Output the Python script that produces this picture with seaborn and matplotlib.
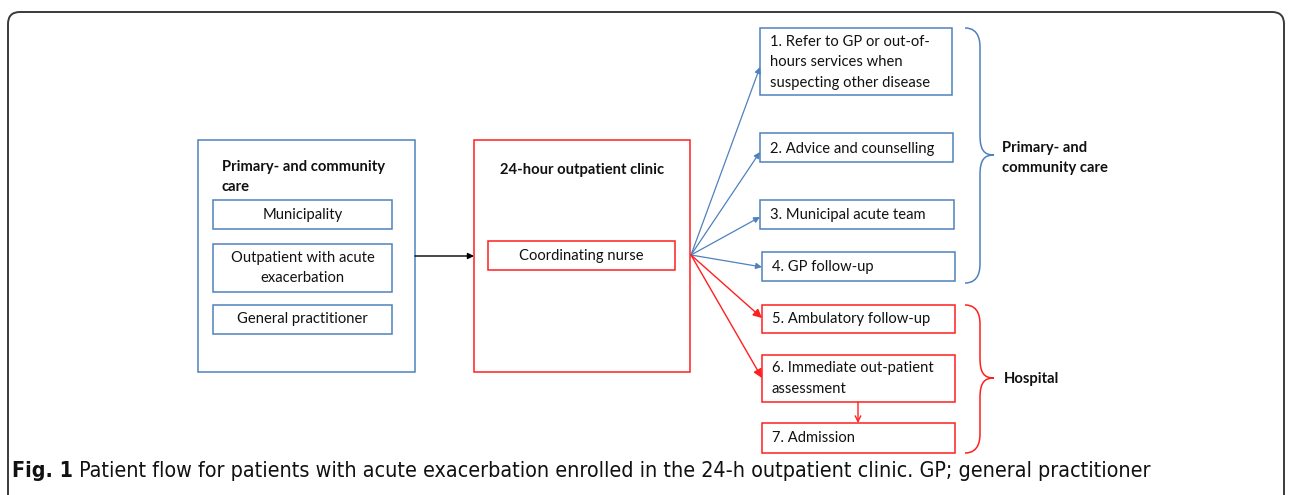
import matplotlib
matplotlib.use("Agg")
import matplotlib.pyplot as plt
import seaborn as sns
from matplotlib.patches import Rectangle, FancyBboxPatch, PathPatch
from matplotlib.path import Path
from matplotlib import font_manager
from matplotlib.font_manager import FontProperties

# ---- content ----
left_title = "Primary- and community\ncare"
left_items = ["Municipality", "Outpatient with acute\nexacerbation", "General practitioner"]
clinic_title = "24-hour outpatient clinic"
clinic_item = "Coordinating nurse"
primary_outcomes = ["1. Refer to GP or out-of-\nhours services when\nsuspecting other disease",
                    "2. Advice and counselling",
                    "3. Municipal acute team",
                    "4. GP follow-up"]
hospital_outcomes = ["5. Ambulatory follow-up",
                     "6. Immediate out-patient\nassessment",
                     "7. Admission"]
brace_labels = ["Primary- and\ncommunity care", "Hospital"]
caption_bold = "Fig. 1"
caption_text = " Patient flow for patients with acute exacerbation enrolled in the 24-h outpatient clinic. GP; general practitioner"

BLUE = "#4F81BD"
RED = "#FF1F1F"
TXT = "#111111"

sns.set_theme(style="white")
avail = {f.name for f in font_manager.fontManager.ttflist}
box_font = "Lato" if "Lato" in avail else "DejaVu Sans"
plt.rcParams['font.family'] = [box_font, 'DejaVu Sans']

# look for a condensed / narrow sans face for the caption
def find_narrow(bold):
    prefs = ["LiberationSansNarrow", "OpenSans_Condensed", "OpenSansCondensed",
             "OpenSans-Condensed", "DejaVuSansCondensed", "NotoSans-Condensed",
             "Roboto_Condensed", "RobotoCondensed"]
    files = [f.fname for f in font_manager.fontManager.ttflist]
    for p in prefs:
        for fn in files:
            base = fn.split("/")[-1]
            if p.lower() in base.replace(" ", "").lower():
                isb = "bold" in base.lower() and "semibold" not in base.lower() \
                      and "extrabold" not in base.lower()
                isi = "italic" in base.lower() or "oblique" in base.lower()
                if isb == bold and not isi:
                    return fn
    return None

CAP_SIZE = 15.4
nf_reg = find_narrow(False)
nf_bold = find_narrow(True)
if nf_reg:
    cap_reg = FontProperties(fname=nf_reg, size=CAP_SIZE)
    cap_bold = FontProperties(fname=nf_bold, size=CAP_SIZE) if nf_bold else \
        FontProperties(fname=nf_reg, size=CAP_SIZE, weight="bold")
else:
    cap_reg = FontProperties(family=box_font, size=14.0)
    cap_bold = FontProperties(family=box_font, size=14.0, weight="bold")

W, H = 1292, 495
fig = plt.figure(figsize=(W / 100, H / 100), dpi=100)
ax = fig.add_axes([0, 0, 1, 1])
ax.set_xlim(0, W)
ax.set_ylim(H, 0)
ax.axis("off")

FS = 10.6
LS = 1.6

# outer frame
ax.add_patch(FancyBboxPatch((8, 12), W - 16, H + 20, boxstyle="round,pad=0,rounding_size=12",
                            fc="none", ec="#3a3a3a", lw=1.4, clip_on=True))

def box(x0, y0, x1, y1, color, lw=1.1):
    ax.add_patch(Rectangle((x0, y0), x1 - x0, y1 - y0, fc="white", ec=color, lw=lw))

# left box
box(198, 140, 415, 372, BLUE)
ax.text(222, 177, left_title, fontsize=FS, fontweight="bold", color=TXT, va="center",
        ha="left", linespacing=LS)
left_boxes = [(200, 229), (244, 292), (305, 334)]
for (y0, y1), lab in zip(left_boxes, left_items):
    box(213, y0, 392, y1, BLUE)
    ax.text((213 + 392) / 2, (y0 + y1) / 2, lab, fontsize=FS, color=TXT, ha="center",
            va="center", linespacing=LS)

# clinic box
box(474, 140, 690, 372, RED)
ax.text(582, 170, clinic_title, fontsize=FS, fontweight="bold", color=TXT, ha="center", va="center")
box(488, 241, 675, 270, RED)
ax.text(581.5, 256, clinic_item, fontsize=FS, color=TXT, ha="center", va="center")

# black arrow
ax.annotate("", xy=(474, 256), xytext=(415, 256),
            arrowprops=dict(arrowstyle="-|>", color="black", lw=1.0, mutation_scale=9,
                            shrinkA=0, shrinkB=0))

# outcome boxes
prim_boxes = [(760, 28, 952, 95), (760, 133, 953, 162), (760, 200, 954, 229), (762, 252, 955, 281)]
prim_targets = [67, 152, 217, 267]
for (x0, y0, x1, y1), lab, ty in zip(prim_boxes, primary_outcomes, prim_targets):
    box(x0, y0, x1, y1, BLUE)
    ax.text(x0 + 10, (y0 + y1) / 2 + 1, lab, fontsize=FS, color=TXT, ha="left", va="center",
            linespacing=LS)
    ax.annotate("", xy=(x0, ty), xytext=(691, 255),
                arrowprops=dict(arrowstyle="-|>", color=BLUE, lw=0.9, mutation_scale=9,
                                shrinkA=0, shrinkB=0))

hosp_boxes = [(762, 305, 955, 333), (762, 355, 955, 402), (762, 423, 955, 453)]
for (x0, y0, x1, y1), lab in zip(hosp_boxes, hospital_outcomes):
    box(x0, y0, x1, y1, RED)
    ax.text(x0 + 10, (y0 + y1) / 2, lab, fontsize=FS, color=TXT, ha="left", va="center",
            linespacing=LS)
for ty in [318, 378]:
    ax.annotate("", xy=(762, ty), xytext=(691, 255),
                arrowprops=dict(arrowstyle="-|>", color=RED, lw=1.0, mutation_scale=13,
                                shrinkA=0, shrinkB=0))
ax.annotate("", xy=(858, 423), xytext=(858, 402),
            arrowprops=dict(arrowstyle="->", color=RED, lw=1.0, mutation_scale=10,
                            shrinkA=0, shrinkB=0))

# braces
def brace(y0, y1, ym, color, x0=965, xb=980, xt=994):
    verts = [(x0, y0), (xb, y0), (xb, y0 + 15), (xb, y0 + 20),
             (xb, ym - 20), (xb, ym - 5), (xb + 4, ym), (xt, ym),
             (xb + 4, ym), (xb, ym + 5), (xb, ym + 20),
             (xb, y1 - 20), (xb, y1 - 15), (xb, y1), (x0, y1)]
    codes = [Path.MOVETO, Path.CURVE4, Path.CURVE4, Path.CURVE4,
             Path.LINETO, Path.CURVE4, Path.CURVE4, Path.CURVE4,
             Path.CURVE4, Path.CURVE4, Path.CURVE4,
             Path.LINETO, Path.CURVE4, Path.CURVE4, Path.CURVE4]
    ax.add_patch(PathPatch(Path(verts, codes), fc="none", ec=color, lw=1.1))

brace(28, 283, 155, BLUE)
brace(305, 453, 378, RED)
ax.text(1002, 158, brace_labels[0], fontsize=FS, fontweight="bold", color=TXT, ha="left",
        va="center", linespacing=LS)
ax.text(1004, 379, brace_labels[1], fontsize=FS, fontweight="bold", color=TXT, ha="left",
        va="center")

# caption
t = ax.text(12, 471, caption_bold, fontproperties=cap_bold, color=TXT, ha="left", va="center")
fig.canvas.draw()
bb = t.get_window_extent()
ax.text(12 + bb.width, 471, caption_text, fontproperties=cap_reg, color=TXT, ha="left",
        va="center")

fig.savefig("out.png", dpi=100)
